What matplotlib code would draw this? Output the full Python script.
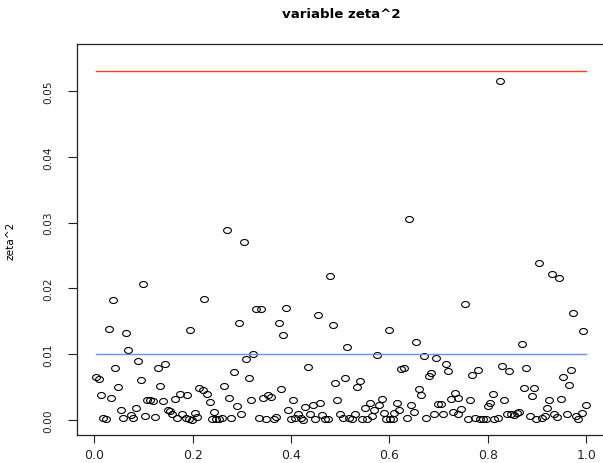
import numpy as np
import matplotlib
matplotlib.use("Agg")
import matplotlib.pyplot as plt
from matplotlib.path import Path

# ---- data ----
x_vals = [
    0.269, 0.304, 0.640, 0.825, 0.0992, 0.0389, 0.2238, 0.904, 0.931, 0.9447,
    0.7537, 0.9738, 0.4793, 0.3289, 0.3397, 0.3892, 0.375, 0.4543, 0.3844, 0.4847,
    0.0294, 0.0646, 0.1947, 0.2943, 0.0694, 0.089, 0.0429, 0.129, 0.1439, 0.0037,
    0.0091, 0.0945, 0.049, 0.1337, 0.2137, 0.2205, 0.2287, 0.0138, 0.0341, 0.1067,
    0.1134, 0.1189, 0.139, 0.1642, 0.1744, 0.1892, 0.0539, 0.0843, 0.0185, 0.024,
    0.0579, 0.0742, 0.0795, 0.1039, 0.1242, 0.1494, 0.154, 0.1588, 0.169, 0.179,
    0.186, 0.192, 0.1995, 0.2049, 0.2096,
    0.3234, 0.309, 0.284, 0.314, 0.434, 0.2645, 0.2347, 0.274, 0.2896, 0.3193,
    0.3437, 0.3539, 0.36, 0.3797, 0.404, 0.3945, 0.4291, 0.4441, 0.4596, 0.4386,
    0.2435, 0.2984, 0.2388, 0.2476, 0.2537, 0.2591, 0.2787, 0.335, 0.3498, 0.3648,
    0.3701, 0.4, 0.4081, 0.4142, 0.4197, 0.425, 0.4494, 0.4636, 0.4691, 0.4752,
    0.5998, 0.6547, 0.5144, 0.5748, 0.6703, 0.6941, 0.715, 0.7197, 0.6242, 0.6297,
    0.6799, 0.6846, 0.5091, 0.4894, 0.5396, 0.5335, 0.6595, 0.6649, 0.4941, 0.734,
    0.74, 0.7246, 0.5843, 0.5795, 0.5693, 0.56, 0.5498, 0.6148, 0.6195, 0.6445,
    0.65, 0.6988, 0.7049, 0.5897, 0.61, 0.4996, 0.5063, 0.5185, 0.524, 0.5295,
    0.5437, 0.5539, 0.564, 0.5931, 0.6012, 0.6067, 0.6351, 0.6744, 0.69, 0.7096,
    0.73, 0.7388,
    0.9941, 0.8689, 0.8282, 0.8431, 0.8776, 0.7685, 0.7795, 0.9535, 0.9691, 0.9644,
    0.8742, 0.8939, 0.8892, 0.7638, 0.81, 0.8045, 0.7998, 0.8336, 0.925, 0.9197,
    0.9488, 0.999, 0.9909, 0.9839, 0.9787, 0.9604, 0.7455, 0.7591, 0.774, 0.7842,
    0.7909, 0.7963, 0.8132, 0.8201, 0.8384, 0.8472, 0.8539, 0.8587, 0.864, 0.8858,
    0.898, 0.9108, 0.9163, 0.9352, 0.9401,
]
zeta2_vals = [
    0.02885, 0.02699, 0.03053, 0.05157, 0.02075, 0.01831, 0.01846, 0.02394, 0.02216, 0.02156,
    0.01771, 0.01634, 0.0219, 0.01684, 0.01684, 0.0171, 0.01481, 0.01593, 0.01288, 0.01445,
    0.01385, 0.01319, 0.01375, 0.01471, 0.0106, 0.00893, 0.00791, 0.00791, 0.00858, 0.00654,
    0.00624, 0.00608, 0.00508, 0.00513, 0.00493, 0.00452, 0.00402, 0.00386, 0.0034, 0.00304,
    0.00304, 0.00295, 0.00284, 0.0032, 0.0039, 0.0038, 0.00152, 0.00178, 0.0003, 0.0001,
    0.00036, 0.00076, 0.00026, 0.0006, 0.00052, 0.00148, 0.00132, 0.00087, 0.00036, 0.001,
    0.0003, 0.0001, 0.0, 0.00112, 0.00046,
    0.0100, 0.00934, 0.00736, 0.00645, 0.00802, 0.00513, 0.0028, 0.0033, 0.00208, 0.00304,
    0.00335, 0.00376, 0.00345, 0.00467, 0.00304, 0.00152, 0.00204, 0.00228, 0.00259, 0.00097,
    0.00128, 0.00087, 0.0001, 0.0001, 0.0001, 0.00026, 0.00036, 0.00036, 0.00015, 0.00015,
    0.00041, 0.0001, 0.00026, 0.00087, 0.00036, 0.00006, 0.0002, 0.00071, 0.0001, 0.0001,
    0.01364, 0.01193, 0.0111, 0.00989, 0.0098, 0.00939, 0.00858, 0.00745, 0.00782, 0.00797,
    0.00669, 0.00721, 0.00645, 0.00569, 0.00593, 0.00502, 0.00467, 0.00386, 0.003, 0.00406,
    0.0034, 0.00315, 0.0032, 0.00234, 0.00158, 0.00254, 0.00178, 0.00265, 0.00158, 0.00234,
    0.00128, 0.00239, 0.00239, 0.00112, 0.00102, 0.00087, 0.00036, 0.00026, 0.0001, 0.00087,
    0.0001, 0.0001, 0.0006, 0.0001, 0.0001, 0.0001, 0.00036, 0.00026, 0.00097, 0.00087,
    0.00122, 0.00087,
    0.01354, 0.01162, 0.00821, 0.00745, 0.00786, 0.00685, 0.00756, 0.00654, 0.00756, 0.00528,
    0.00493, 0.00493, 0.00365, 0.003, 0.00391, 0.00265, 0.00213, 0.003, 0.003, 0.00189,
    0.00315, 0.00224, 0.00112, 0.0001, 0.0006, 0.00087, 0.00163, 0.0002, 0.00036, 0.0001,
    0.0001, 0.0001, 0.0001, 0.00026, 0.00087, 0.00097, 0.00076, 0.00112, 0.00128, 0.0006,
    0.00015, 0.00026, 0.0006, 0.00087, 0.00046,
]
upper_level = 0.05305
lower_level = 0.01
x_ticks = [0.0, 0.2, 0.4, 0.6, 0.8, 1.0]
x_ticklabels = ["0.0", "0.2", "0.4", "0.6", "0.8", "1.0"]
y_ticks = [0.00, 0.01, 0.02, 0.03, 0.04, 0.05]
y_ticklabels = ["0.00", "0.01", "0.02", "0.03", "0.04", "0.05"]
title = "variable zeta^2"
ylabel = "zeta^2"

# ---- figure ----
W, H = 603, 464
fig = plt.figure(figsize=(W / 100, H / 100), dpi=100)
left_px, right_px, top_px, bottom_px = 76.6, 604.8, 45, 436
ax = fig.add_axes([left_px / W, 1 - bottom_px / H,
                   (right_px - left_px) / W, (bottom_px - top_px) / H])
ax.set_xlim(-0.0358, 1.0378)
ax.set_ylim(-0.00226, 0.05715)

# ellipse marker (reference is horizontally stretched)
t = np.linspace(0, 2 * np.pi, 60)
stretch = 1.3
ell = Path(np.column_stack([np.cos(t), np.sin(t) / stretch]), closed=True)

ax.plot(x_vals, zeta2_vals, linestyle="none", marker=ell, markersize=5.6,
        markerfacecolor="none", markeredgecolor="black", markeredgewidth=0.8)

xmin, xmax = min(x_vals), max(x_vals)
ax.plot([xmin, xmax], [upper_level, upper_level], color="#F5401F", lw=1.0)
ax.plot([xmin, xmax], [lower_level, lower_level], color="#6C8CF5", lw=1.0)

for s in ax.spines.values():
    s.set_linewidth(0.9)
    s.set_color("#222222")

ax.set_xticks(x_ticks)
ax.set_xticklabels(x_ticklabels)
ax.set_yticks(y_ticks)
ax.set_yticklabels(y_ticklabels, rotation=90, va="center")
ax.tick_params(axis="x", direction="out", length=5.5, width=0.8, pad=4,
               labelsize=9, colors="#222222")
ax.tick_params(axis="y", direction="out", length=6.5, width=0.8, pad=10,
               labelsize=7.6, colors="#222222")

fig.text(341 / W, 1 - 15 / H, title, ha="center", va="center",
         fontsize=9.6, fontweight="bold", family="DejaVu Sans")
fig.text(10 / W, 1 - 241 / H, ylabel, ha="center", va="center",
         rotation=90, fontsize=7.6, family="DejaVu Sans")

fig.savefig("out.png", dpi=100)
